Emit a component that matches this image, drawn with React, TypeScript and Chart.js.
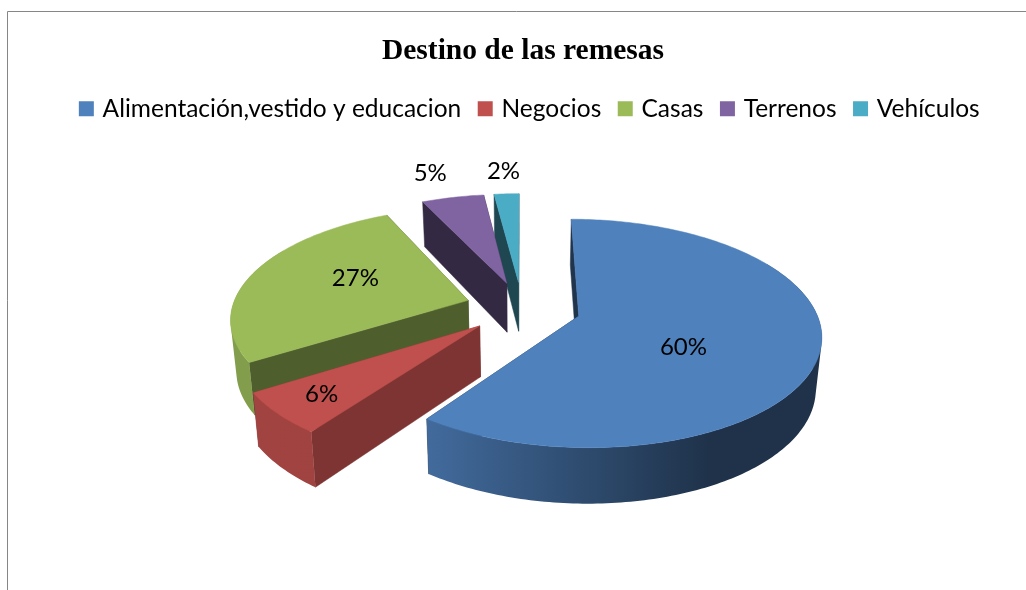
import React, { useEffect, useRef } from "react";
import { Chart, registerables } from "chart.js";

Chart.register(...registerables);

const categories = ["Alimentación,vestido y educacion", "Negocios", "Casas", "Terrenos", "Vehículos"];
const values = [60, 6, 27, 5, 2];
const colors = ["#4F81BD", "#C0504D", "#9BBB59", "#8064A2", "#4BACC6"];
const titleText = "Destino de las remesas";

const VIEW = { cx: 522, cy: 307.6, rx: 236, ry: 109, k: 0.15, depth: 50, depthK: 0.1, bottomX: 0.98 };
const EXPLODE = [40, 38.4, 38.4, 38.4, 38.4];
const CUT_SHADE = [0.4, 0.65, 0.5, 0.41, 0.41];
const LABEL_RADIUS = [0.49, 0.8, 0.55, 1.35, 1.3];
const LABEL_TURN = [15, 0, 7, -1.5, 0];
const PAINT_ORDER = [4, 3, 2, 1, 0];
const RIM_STOPS = [
  { x: 250, m: 0.84 },
  { x: 425, m: 0.83 },
  { x: 520, m: 0.68 },
  { x: 650, m: 0.48 },
  { x: 710, m: 0.39 },
];

type Pt = { x: number; y: number };

function project(X: number, Y: number, low: boolean): Pt {
  const s = 1 / (1 + VIEW.k * Y);
  return {
    x: VIEW.cx + X * VIEW.rx * s * (low ? VIEW.bottomX : 1),
    y: VIEW.cy - Y * VIEW.ry * s + (low ? VIEW.depth / (1 + VIEW.depthK * Y) : 0),
  };
}

function shade(hex: string, m: number) {
  const n = parseInt(hex.slice(1), 16);
  const c = [(n >> 16) & 255, (n >> 8) & 255, n & 255].map((v) => Math.round(v * m));
  return `rgb(${c[0]},${c[1]},${c[2]})`;
}

function poly(ctx: CanvasRenderingContext2D, pts: Pt[], fill: any) {
  ctx.beginPath();
  pts.forEach((p, i) => (i ? ctx.lineTo(p.x, p.y) : ctx.moveTo(p.x, p.y)));
  ctx.closePath();
  ctx.fillStyle = fill;
  ctx.strokeStyle = fill;
  ctx.lineWidth = 0.5;
  ctx.fill();
  ctx.stroke();
}

function signedArea(p: Pt[]) {
  let s = 0;
  p.forEach((a, i) => {
    const b = p[(i + 1) % p.length];
    s += a.x * b.y - b.x * a.y;
  });
  return s;
}

const pie3d = {
  id: "pie3d",
  beforeDraw(chart: any) {
    const ctx = chart.ctx;
    ctx.save();
    ctx.fillStyle = "#FFFFFF";
    ctx.fillRect(0, 0, chart.width, chart.height);
    ctx.strokeStyle = "#868686";
    ctx.lineWidth = 1;
    ctx.beginPath();
    ctx.moveTo(7.5, chart.height);
    ctx.lineTo(7.5, 11.5);
    ctx.lineTo(chart.width, 11.5);
    ctx.stroke();
    ctx.restore();
  },
  afterLayout(chart: any) {
    chart.titleBlock.left += 10;
    chart.titleBlock.right += 10;
    chart.legend.left += 18;
    chart.legend.right += 18;
  },
  beforeDatasetDraw(chart: any, args: any) {
    const ctx: CanvasRenderingContext2D = chart.ctx;
    const arcs = args.meta.data;
    const total = values.reduce((a, b) => a + b, 0);
    ctx.save();
    for (const i of PAINT_ORDER) {
      const arc = arcs[i];
      const R = arc.outerRadius;
      const e = arc.options.offset / R;
      const a0 = arc.startAngle;
      const a1 = arc.endAngle;
      const mid = (a0 + a1) / 2;
      const ox = e * Math.cos(mid);
      const oy = -e * Math.sin(mid);
      const rim = (a: number, low: boolean) => project(ox + Math.cos(a), oy - Math.sin(a), low);
      const apexT = project(ox, oy, false);
      const apexB = project(ox, oy, true);
      const cut = shade(colors[i], CUT_SHADE[i]);
      poly(ctx, [rim(a1, false), apexT, apexB, rim(a1, true)], cut);
      poly(ctx, [rim(a0, false), apexT, apexB, rim(a0, true)], cut);
      // outer wall: the part of the rim turned toward the viewer, plus a margin for the silhouette
      const frontStart = Math.max(a0, (-30 * Math.PI) / 180);
      const frontEnd = Math.min(a1, (210 * Math.PI) / 180);
      if (frontEnd > frontStart) {
        const grad = ctx.createLinearGradient(RIM_STOPS[0].x, 0, RIM_STOPS[RIM_STOPS.length - 1].x, 0);
        const span = RIM_STOPS[RIM_STOPS.length - 1].x - RIM_STOPS[0].x;
        RIM_STOPS.forEach((s) => grad.addColorStop((s.x - RIM_STOPS[0].x) / span, shade(colors[i], s.m)));
        const m = Math.ceil(((frontEnd - frontStart) * 180) / Math.PI);
        const step = (frontEnd - frontStart) / m;
        ctx.beginPath();
        for (let j = 0; j < m; j++) {
          const a = frontStart + step * j;
          let q = [rim(a, false), rim(a + step, false), rim(a + step, true), rim(a, true)];
          if (signedArea(q) < 0) q = q.reverse();
          q.forEach((p, t) => (t ? ctx.lineTo(p.x, p.y) : ctx.moveTo(p.x, p.y)));
          ctx.closePath();
        }
        ctx.fillStyle = grad;
        ctx.fill("nonzero");
      }
      const n = Math.max(2, Math.ceil(((a1 - a0) * 180) / Math.PI));
      const top = [apexT];
      for (let j = 0; j <= n; j++) top.push(rim(a0 + ((a1 - a0) * j) / n, false));
      poly(ctx, top, colors[i]);
    }
    ctx.fillStyle = "#000000";
    ctx.font = "24px Lato";
    ctx.textAlign = "center";
    ctx.textBaseline = "middle";
    arcs.forEach((arc: any, i: number) => {
      const e = arc.options.offset / arc.outerRadius;
      const mid = (arc.startAngle + arc.endAngle) / 2;
      const turned = mid + (LABEL_TURN[i] * Math.PI) / 180;
      const r = LABEL_RADIUS[i];
      const p = project(e * Math.cos(mid) + r * Math.cos(turned), -e * Math.sin(mid) - r * Math.sin(turned), false);
      ctx.fillText(`${Math.round((values[i] / total) * 100)}%`, p.x, p.y);
    });
    ctx.restore();
    return false;
  },
};

export default function App() {
  const ref = useRef<HTMLCanvasElement>(null);
  useEffect(() => {
    const chart = new Chart(ref.current!, {
      type: "pie",
      data: {
        labels: categories,
        datasets: [{ data: values, backgroundColor: colors, borderWidth: 0, offset: EXPLODE }],
      },
      options: {
        animation: false,
        responsive: false,
        radius: 160,
        layout: { padding: 0 },
        plugins: {
          title: {
            display: true,
            text: titleText,
            color: "#000000",
            font: { family: "'Liberation Serif'", size: 29.5, weight: "bold" },
            padding: { top: 33.5, bottom: 7.5 },
          },
          legend: {
            position: "top",
            labels: {
              font: { family: "Lato", size: 24.5 },
              color: "#000000",
              boxWidth: 8,
              boxHeight: 8,
              padding: 20,
              generateLabels: () =>
                categories.map((text, i) => ({
                  text,
                  fillStyle: colors[i],
                  strokeStyle: colors[i],
                  lineWidth: 7,
                  index: i,
                })),
            },
          },
          tooltip: { enabled: false },
        },
      } as any,
      plugins: [pie3d],
    });
    return () => chart.destroy();
  }, []);
  return (
    <div style={{ position: "absolute", left: 0, top: 0, width: 1026, height: 590 }}>
      <canvas ref={ref} width={1026} height={590} style={{ display: "block" }} />
    </div>
  );
}
